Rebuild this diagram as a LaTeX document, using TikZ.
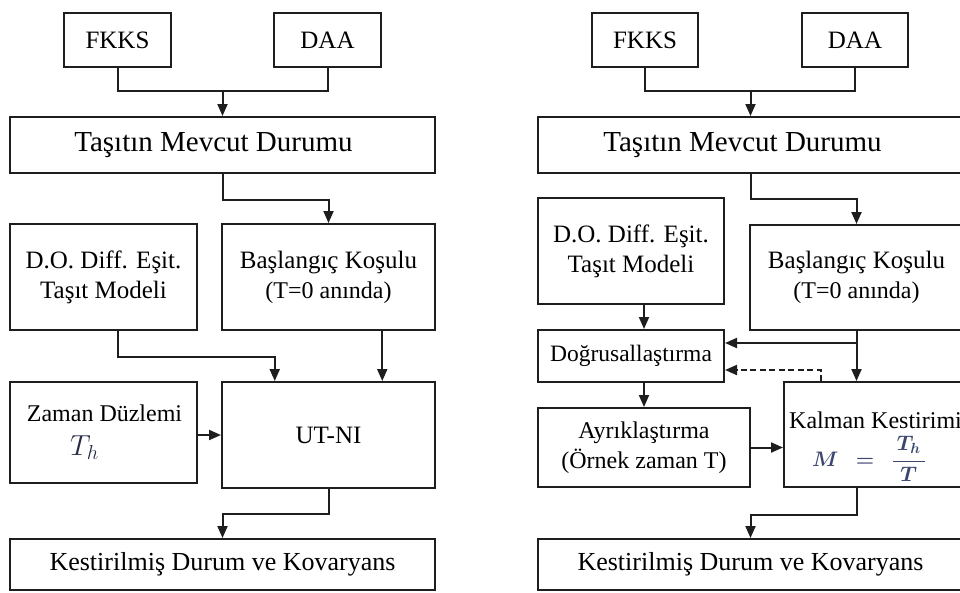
\RequirePackage{fix-cm}
\documentclass[tikz,border=0pt]{standalone}
\usepackage{fontspec}
\setmainfont{Liberation Serif}
\usetikzlibrary{arrows.meta,calc}
\definecolor{linec}{RGB}{30,30,30}
\definecolor{mathc}{RGB}{40,45,70}
\definecolor{mathk}{RGB}{60,70,110}
\newcommand{\setfs}[1]{\fontsize{#1}{30}\selectfont}
\begin{document}
\begin{tikzpicture}[x=1pt,y=-1pt,
  box/.style={draw=linec,line width=2pt,inner sep=0pt,align=center,font=\setfs{25}},
  txt/.style={inner sep=0pt,font=\setfs{24}},
  ln/.style={draw=linec,line width=2pt},
  arr/.style={ln,-{Triangle[length=12pt,width=10pt]}},
  dsh/.style={dash pattern=on 6pt off 3.5pt}]
\useasboundingbox (0,0) rectangle (960,592);
\fill[white] (0,0) rectangle (960,592);
\clip (0,0) rectangle (960,592);

% ---------- left scheme: UT-NI ----------
\node[box,minimum width=107pt,minimum height=54pt] (fk1) at (117.5,40) {FKKS};
\node[box,minimum width=107pt,minimum height=54pt] (da1) at (327.5,40) {DAA};
\node[box,font=\setfs{29},minimum width=425pt,minimum height=56pt] (tm1) at (222.5,145) {Taşıtın Mevcut Durumu\hspace*{18pt}\null};
\node[box,minimum width=187pt,minimum height=106pt] (do1) at (103.5,277) {D.O. Diff. Eşit.\\Taşıt Modeli};
\node[box,minimum width=213pt,minimum height=106pt] (bk1) at (328.5,277) {Başlangıç Koşulu\\{\setfs{24}(T=0 anında)}};
\node[box,minimum width=187pt,minimum height=101pt] (zd1) at (103.5,432.5) {};
\node[txt,anchor=base] (zdt) at (104.5,421) {Zaman Düzlemi};
\node[txt,font=\setfs{29},text=mathc,anchor=base west] (zdm) at (70,455) {$T_h$};
\node[box,minimum width=213pt,minimum height=106pt] (ut1) at (328.5,435) {UT-NI};
\node[box,font=\setfs{26},minimum width=425pt,minimum height=51pt] (kd1) at (222.5,564.5) {Kestirilmiş Durum ve Kovaryans};

\coordinate (j1) at ($(tm1.north)+(0,-25)$);
\draw[ln] (fk1.south) |- (j1) -| (da1.south);
\draw[arr] (j1) -- (tm1.north);
\draw[arr] (tm1.south) -- ++(0,26) -| (bk1.north);
\draw[arr] (do1.south -| fk1.south) -- ++(0,26) -| ($(ut1.north west)!0.25!(ut1.north east)$);
\draw[arr] ($(bk1.south west)!0.75!(bk1.south east)$) -- ($(ut1.north west)!0.75!(ut1.north east)$);
\draw[arr] (zd1.east |- ut1.west) -- (ut1.west);
\draw[arr] (ut1.south) -- ++(0,25) -| (kd1.north);

% ---------- right scheme: Kalman ----------
\node[box,minimum width=106pt,minimum height=54pt] (fk2) at (645,40) {FKKS};
\node[box,minimum width=106pt,minimum height=54pt] (da2) at (855,40) {DAA};
\node[box,font=\setfs{29},minimum width=425pt,minimum height=56pt] (tm2) at (750.5,145) {Taşıtın Mevcut Durumu\hspace*{16pt}\null};
\node[box,minimum width=186pt,minimum height=106pt] (do2) at (631,251) {D.O. Diff. Eşit.\\Taşıt Modeli};
\node[box,minimum width=213pt,minimum height=105pt] (bk2) at (856.5,277.5) {Başlangıç Koşulu\\{\setfs{24}(T=0 anında)}};
\node[box,font=\setfs{23.5},minimum width=186pt,minimum height=52pt] (dg2) at (631,356) {Doğrusallaştırma};
\node[box,font=\setfs{24},minimum width=212pt,minimum height=79pt] (ay2) at (644,447.5) {Ayrıklaştırma\\(Örnek zaman T)};
\node[box,minimum width=179pt,minimum height=105pt] (km2) at (873.5,434.5) {};
\node[txt,anchor=base west] (kmt) at (789,428) {Kalman Kestirimi};
\node[txt,font=\setfs{21}\boldmath,text=mathk] (kmm) at (869,459) {$M\;\,=\;\,\displaystyle\frac{\,T_h\,}{T}$};
\node[box,font=\setfs{26},minimum width=425pt,minimum height=51pt] (kd2) at (750.5,564.5) {Kestirilmiş Durum ve Kovaryans};

\coordinate (j2) at ($(tm2.north)+(0,-25)$);
\draw[ln] (fk2.south) |- (j2) -| (da2.south);
\draw[arr] (j2) -- (tm2.north);
\draw[arr] (tm2.south) -- ++(0,25) -| (bk2.north);
\draw[arr] (do2.south -| ay2.north) -- (dg2.north -| ay2.north);
\draw[arr] (dg2.south -| ay2.north) -- (ay2.north);
\draw[arr] (bk2.south) -- (km2.north -| bk2.south);
\coordinate (j3) at ($(bk2.south)+(0,12)$);
\draw[arr] (j3) -- (j3 -| dg2.east);
\coordinate (j4) at ($(km2.north west)+(38,0)$);
\coordinate (j5) at ($(j4)+(0,-11)$);
\draw[arr,dsh] (j4) -- (j5) -- (j5 -| dg2.east);
\draw[arr] (ay2.east) -- (ay2.east -| km2.west);
\draw[arr] (km2.south -| bk2.south) -- ++(0,27) -| (kd2.north);
\end{tikzpicture}
\end{document}
